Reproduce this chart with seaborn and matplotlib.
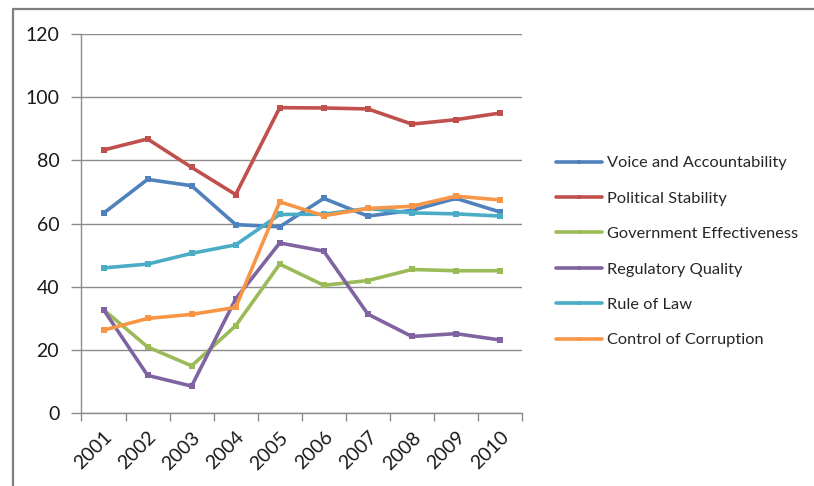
import matplotlib
matplotlib.use("Agg")
import matplotlib.pyplot as plt
from matplotlib.lines import Line2D
from matplotlib.transforms import ScaledTranslation
import seaborn as sns
import pandas as pd
import numpy as np

years = ["2001", "2002", "2003", "2004", "2005", "2006", "2007", "2008", "2009", "2010"]
voice = [63.3, 74.0, 72.0, 59.7, 59.0, 68.0, 62.4, 64.2, 68.0, 63.7]
political = [83.3, 86.8, 77.8, 69.2, 96.7, 96.6, 96.3, 91.5, 92.9, 95.0]
government = [32.8, 21.0, 15.0, 27.7, 47.2, 40.5, 42.0, 45.5, 45.1, 45.1]
regulatory = [32.8, 12.0, 8.6, 36.2, 53.9, 51.3, 31.4, 24.3, 25.2, 23.2]
rule_of_law = [46.0, 47.2, 50.6, 53.3, 62.9, 63.0, 64.8, 63.4, 63.1, 62.4]
corruption = [26.3, 30.0, 31.3, 33.5, 66.9, 62.5, 64.8, 65.5, 68.7, 67.5]

series_names = ["Voice and Accountability", "Political Stability", "Government Effectiveness",
                "Regulatory Quality", "Rule of Law", "Control of Corruption"]
series_vals = [voice, political, government, regulatory, rule_of_law, corruption]
colors = ["#4F81BD", "#C0504D", "#9BBB59", "#8064A2", "#4BACC6", "#F79646"]
yticks = [0, 20, 40, 60, 80, 100, 120]

rows = []
for name, vals in zip(series_names, series_vals):
    for i, v in enumerate(vals):
        rows.append({"idx": i, "value": v, "series": name})
df = pd.DataFrame(rows)

sns.set_theme(style="white")
plt.rcParams["font.family"] = ["Lato", "DejaVu Sans"]

fig = plt.figure(figsize=(8.14, 4.86), dpi=100)
ax = fig.add_axes([0.1001, 0.1496, 0.6413 - 0.1001, 0.930 - 0.1496])

sns.lineplot(data=df, x="idx", y="value", hue="series", hue_order=series_names,
             palette=colors, marker="s", markersize=4.5, markeredgewidth=0,
             linewidth=2.6, dashes=False, ax=ax, legend=False)

ax.set_xlim(-0.5, len(years) - 0.5)
ax.set_ylim(0, 120)
ax.set_yticks(yticks)
ax.set_yticklabels([str(t) for t in yticks], fontsize=14, color="#1a1a1a")
ax.yaxis.grid(True, color="#8c8c8c", linewidth=1.0)
ax.set_axisbelow(True)

ax.set_xticks(np.arange(-0.5, len(years), 1.0))
ax.set_xticklabels([])
ax.set_xticks(np.arange(len(years)), minor=True)
labels = ax.set_xticklabels(years, minor=True, rotation=45, ha="right", va="top",
                            rotation_mode="anchor", fontsize=14, color="#1a1a1a")
offset = ScaledTranslation(8 / 100, 0, fig.dpi_scale_trans)
for lab in labels:
    lab.set_transform(lab.get_transform() + offset)
ax.tick_params(axis="x", which="minor", length=0, pad=11)
ax.tick_params(axis="x", which="major", length=6, color="#8c8c8c", width=1, direction="out", bottom=True)
ax.tick_params(axis="y", length=7, color="#8c8c8c", width=1, direction="out", left=True, pad=9)

for side in ["top", "right"]:
    ax.spines[side].set_visible(False)
for side in ["left", "bottom"]:
    ax.spines[side].set_color("#8c8c8c")
    ax.spines[side].set_linewidth(1.0)
ax.set_xlabel("")
ax.set_ylabel("")

handles = [Line2D([0], [0], color=c, linewidth=2.6, marker="s", markersize=3, markeredgewidth=0)
           for c in colors]
fig.legend(handles, series_names, loc="upper left", bbox_to_anchor=(556 / 814, 1 - 156 / 486),
           frameon=False, fontsize=11.8, handlelength=2.8, handletextpad=0.3,
           labelspacing=1.275, borderaxespad=0, borderpad=0)

# outer frame
fig.add_artist(Line2D([13 / 814, 13 / 814, 1.0], [0.0, 1 - 9.5 / 486, 1 - 9.5 / 486],
                      transform=fig.transFigure, color="#7f7f7f", linewidth=1.6))

fig.savefig("out.png", dpi=100)
